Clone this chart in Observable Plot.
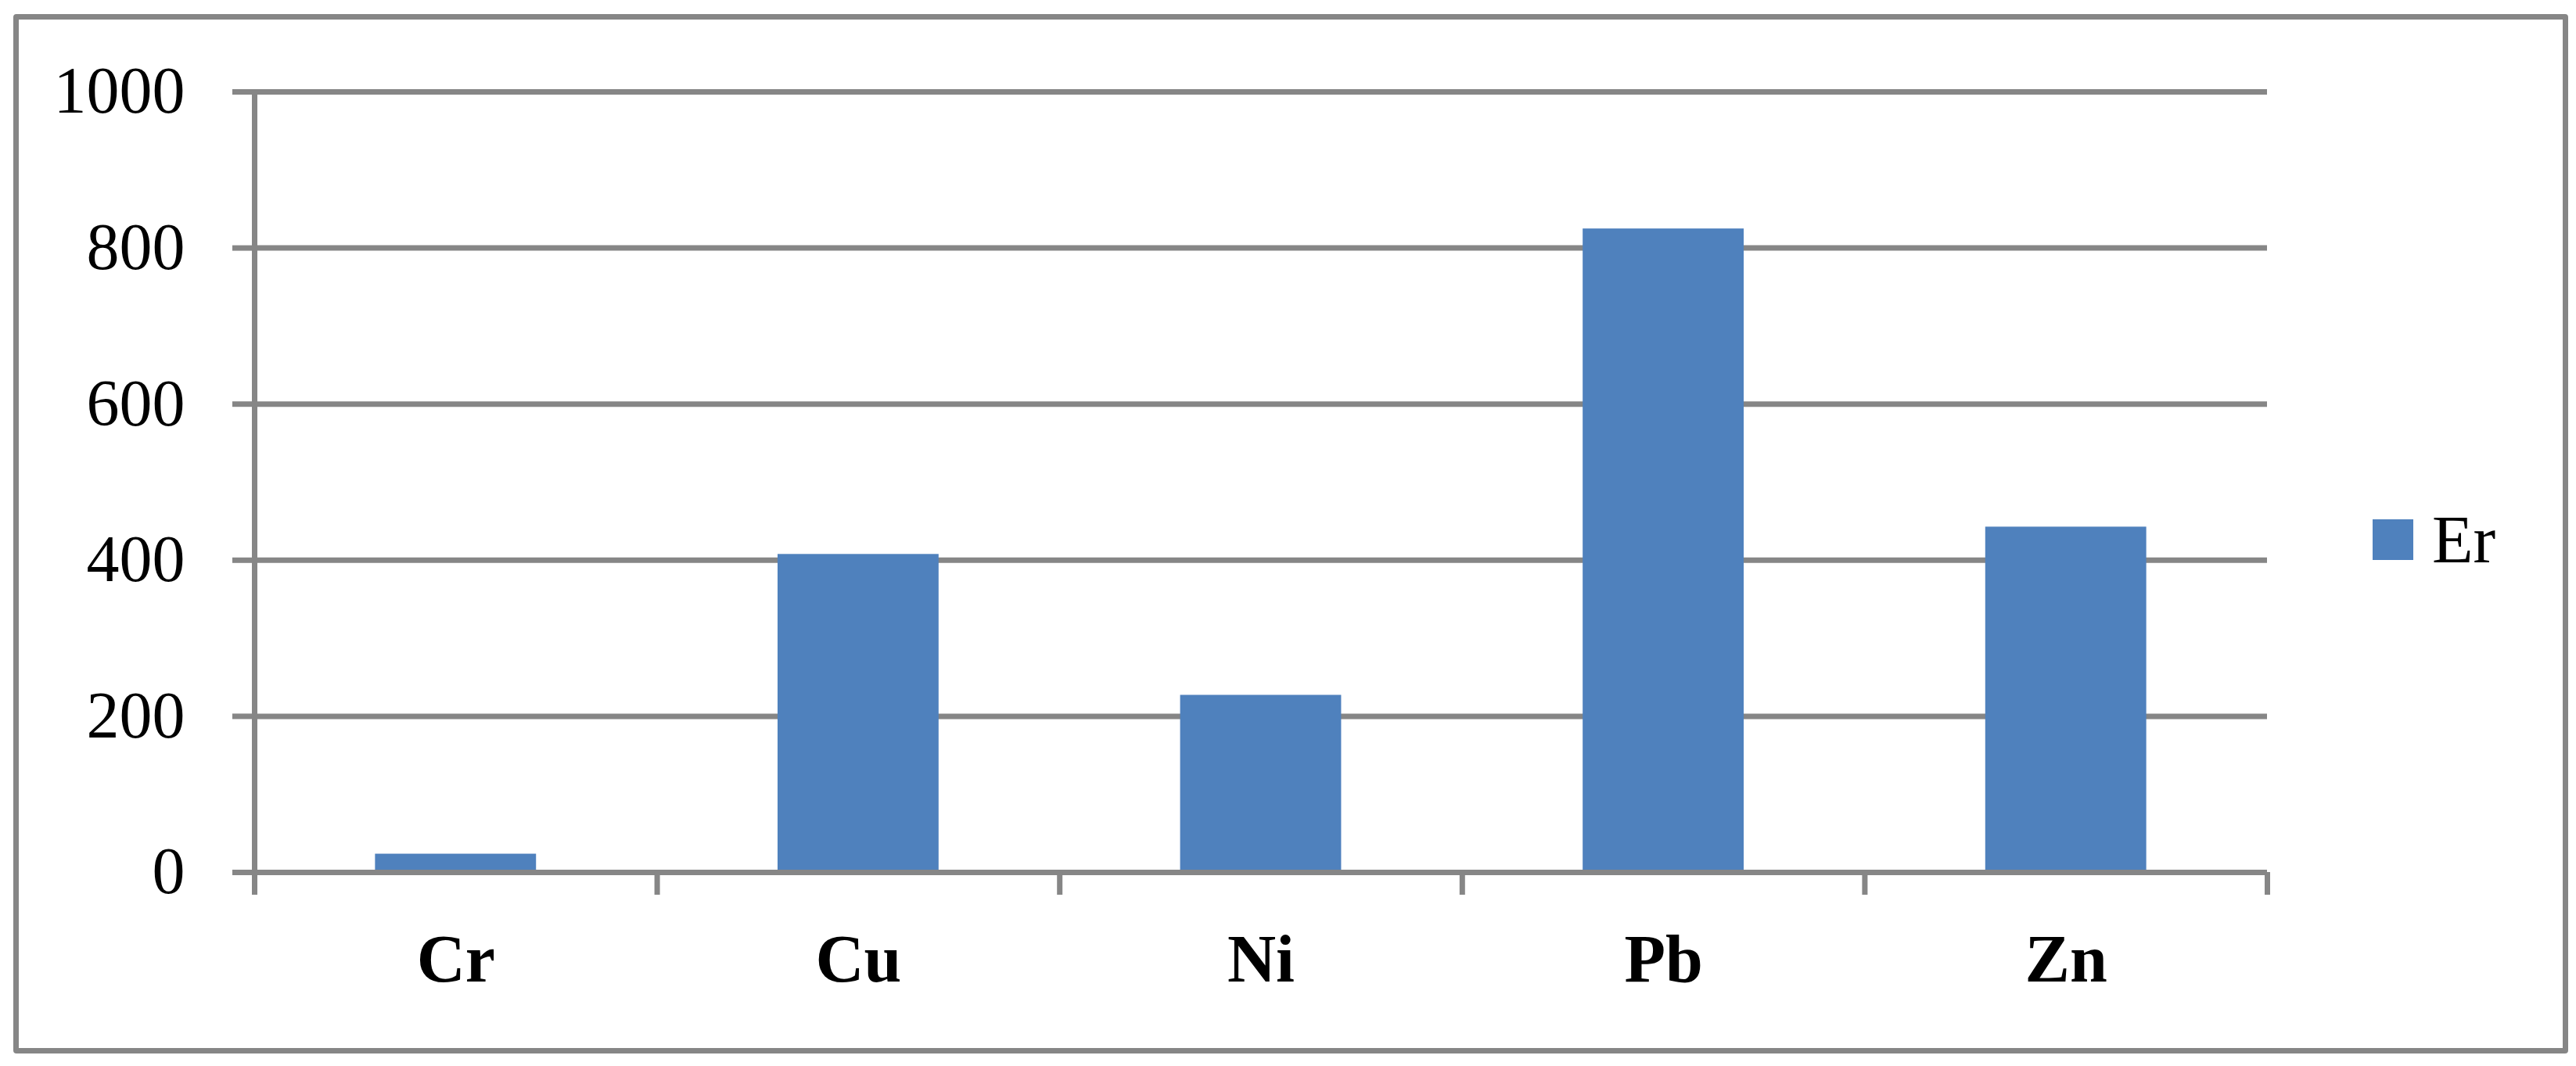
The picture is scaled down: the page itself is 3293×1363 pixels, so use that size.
<!DOCTYPE html>
<html>
<head>
<meta charset="utf-8">
<script src="https://cdn.jsdelivr.net/npm/d3@7"></script>
<script src="https://cdn.jsdelivr.net/npm/@observablehq/plot@0.6"></script>
<style>
  html, body { margin: 0; padding: 0; background: #fff; }
  #wrap { position: relative; width: 3293px; height: 1363px; }
  #frame { position: absolute; left: 17px; top: 18px; width: 3252px; height: 1315px;
           border: 7px solid #868686; border-radius: 4px; box-sizing: content-box; pointer-events: none; }
  #legend { position: absolute; left: 3033px; top: 640px; display: flex; align-items: center;
            font-family: "Liberation Serif", "DejaVu Serif", serif; font-size: 86px; color: #000; }
  #legend .sw { width: 52px; height: 52px; background: #4F81BD; margin-right: 24px; }
</style>
</head>
<body>
<div id="wrap">
  <div id="chart"></div>
  <div id="frame"></div>
  <div id="legend"><div class="sw"></div><span id="legend-label"></span></div>
</div>
<script>
const categories = ["Cr", "Cu", "Ni", "Pb", "Zn"];
const values = [23.5, 407.5, 227, 824.5, 442.5];
const yTicks = [0, 200, 400, 600, 800, 1000];
const seriesName = "Er";

const data = categories.map((c, i) => ({cat: c, idx: i, value: values[i]}));
const boundaries = d3.range(categories.length + 1);
const centers = categories.map((c, i) => i + 0.5);

const gray = "#868686";
const blue = "#4F81BD";

const chart = Plot.plot({
  width: 3293,
  height: 1363,
  marginLeft: 325,
  marginRight: 395,
  marginTop: 117,
  marginBottom: 248,
  style: {fontFamily: "'Liberation Serif', 'DejaVu Serif', serif", background: "#fff", color: "#000"},
  x: {type: "linear", domain: [0, categories.length]},
  y: {domain: [0, 1000]},
  marks: [
    Plot.ruleY(yTicks, {stroke: gray, strokeWidth: 7}),
    Plot.rectY(data, {x1: d => d.idx + 0.3, x2: d => d.idx + 0.7, y1: 0, y2: "value", fill: blue}),
    Plot.ruleY([0], {stroke: gray, strokeWidth: 7}),
    Plot.ruleX([0], {stroke: gray, strokeWidth: 7}),
    Plot.axisY({ticks: yTicks, tickSize: 28, tickPadding: 61, stroke: gray, strokeWidth: 7,
                fontSize: 84, fill: "#000", label: null, tickFormat: d => String(d)}),
    Plot.axisX({ticks: boundaries, tickSize: 29, stroke: gray, strokeWidth: 7,
                tickFormat: () => "", label: null}),
    Plot.axisX({ticks: centers, tickSize: 0, tickPadding: 78, fontSize: 86, fontWeight: "bold",
                fill: "#000", label: null, tickFormat: d => categories[Math.floor(d)]})
  ]
});
document.getElementById("chart").appendChild(chart);
document.getElementById("legend-label").textContent = seriesName;
</script>
</body>
</html>
